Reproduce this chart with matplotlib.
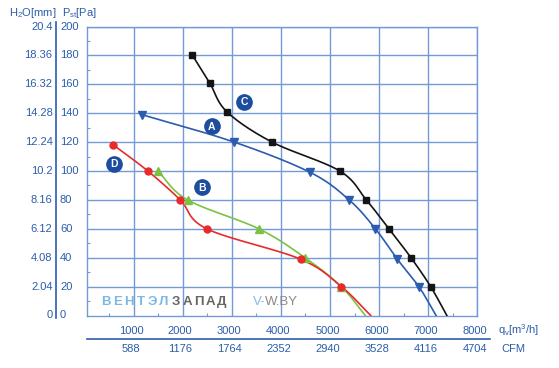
import matplotlib
matplotlib.use("Agg")
import numpy as np
import matplotlib.pyplot as plt
import matplotlib.transforms as mtransforms

plt.rcParams['font.family'] = ['Liberation Sans', 'DejaVu Sans']

# ---- data ----
a_q = [1170, 3050, 4600, 5390, 5925, 6370, 6810, 7160]
a_p = [139, 120, 99, 80, 60, 39, 20, 0]
b_q = [1490, 2100, 3550, 4490, 5230, 5720]
b_p = [100, 80, 60, 40, 20, 0]
c_q = [2200, 2550, 2900, 3820, 5200, 5740, 6200, 6650, 7050, 7380]
c_p = [180, 161, 141, 120, 100, 80, 60, 40, 20, 0]
d_q = [590, 1290, 1950, 2490, 4400, 5230, 5830]
d_p = [118, 100, 80, 60, 39, 20, 0]

badge_names = ["A", "B", "C", "D"]
badge_q = [2595, 2390, 3250, 610]
badge_p = [131, 89, 148, 105]

x_ticks = [1000, 2000, 3000, 4000, 5000, 6000, 7000, 8000]
cfm_labels = ["588", "1176", "1764", "2352", "2940", "3528", "4116", "4704"]
pa_ticks = [0, 20, 40, 60, 80, 100, 120, 140, 160, 180, 200]
mm_labels = ["0", "2.04", "4.08", "6.12", "8.16", "10.2", "12.24", "14.28", "16.32", "18.36", "20.4"]

# ---- style ----
W, H = 559, 368
grid_c = '#7499d9'
txt_c = '#2b5dab'
fig = plt.figure(figsize=(W / 100, H / 100), dpi=100)
fig.patch.set_facecolor('white')

L, R, T, B = 87.3, 477.3, 26.5, 315.5
ax = fig.add_axes([L / W, 1 - B / H, (R - L) / W, (B - T) / H])
ax.set_xlim(58, 8000)
ax.set_ylim(0, 200)

for v in x_ticks:
    ax.axvline(v, color=grid_c, lw=1.0, zorder=1)
for v in pa_ticks[1:]:
    ax.axhline(v, color=grid_c, lw=1.0, zorder=1)
for s in ax.spines.values():
    s.set_color(grid_c)
    s.set_linewidth(1.0)
ax.set_xticks([500 + 1000 * i for i in range(8)])
ax.set_yticks([10 + 20 * i for i in range(10)])
ax.tick_params(direction='in', length=2.5, width=0.8, colors=grid_c,
               labelleft=False, labelbottom=False)


def smooth_path(q, p, n=20):
    """Parametric Catmull-Rom rendering through the given points (display smoothing)."""
    pts = np.column_stack([np.asarray(q, float) / 40.0, np.asarray(p, float)])
    ext = np.vstack([2 * pts[0] - pts[1], pts, 2 * pts[-1] - pts[-2]])
    out = []
    for i in range(1, len(ext) - 2):
        p0, p1, p2, p3 = ext[i - 1], ext[i], ext[i + 1], ext[i + 2]
        t = np.linspace(0, 1, n, endpoint=False)[:, None]
        seg = 0.5 * ((2 * p1) + (-p0 + p2) * t + (2 * p0 - 5 * p1 + 4 * p2 - p3) * t ** 2
                     + (-p0 + 3 * p1 - 3 * p2 + p3) * t ** 3)
        out.append(seg)
    out.append(pts[-1:])
    res = np.vstack(out)
    return res[:, 0] * 40.0, res[:, 1]


def plot_curve(q, p, color, marker, ms, nmark):
    sx, sy = smooth_path(q, p)
    ax.plot(sx, sy, color=color, lw=1.2, zorder=3)
    ax.plot(q[:nmark], p[:nmark], linestyle='none', marker=marker, ms=ms,
            color=color, mec=color, zorder=4)

plot_curve(a_q, a_p, '#2b5cb0', 'v', 5.5, len(a_q) - 1)
plot_curve(b_q, b_p, '#7cc242', '^', 5.5, len(b_q) - 1)
plot_curve(d_q, d_p, '#e82a2a', 'o', 5, len(d_q) - 1)
plot_curve(c_q, c_p, '#141414', 's', 4.5, len(c_q) - 1)

for n, q, p in zip(badge_names, badge_q, badge_p):
    ax.plot(q, p, marker='o', ms=11, color='#1c4d9e', mec='#1c4d9e', zorder=5)
    ax.text(q, p - 0.5, n, color='white', fontsize=7.5, fontweight='bold',
            ha='center', va='center', zorder=6)

# watermark
fy_w = 1 - 302 / H
word = "ВЕНТЭЛЗАПАД"
for i, ch in enumerate(word):
    col = '#7cb8e6' if i < 6 else '#666666'
    fig.text((106 + i * 11.6) / W, fy_w, ch, color=col, fontsize=9.5,
             fontweight='bold', ha='center', va='center')
fig.text(253 / W, fy_w, "V-", color='#86bce8', fontsize=9.5, ha='left', va='center')
fig.text(265 / W, fy_w, "W.BY", color='#8a8a8a', fontsize=9.5, ha='left', va='center')

# x labels
tx = mtransforms.blended_transform_factory(ax.transData, fig.transFigure)
for v, c in zip(x_ticks, cfm_labels):
    ax.text(v - 50, 1 - 331 / H, f"{v}", transform=tx, color=txt_c,
            fontsize=8, ha='center', va='center')
    ax.text(v - 50, 1 - 349 / H, c, transform=tx, color=txt_c,
            fontsize=8, ha='center', va='center')
fig.text(498 / W, 1 - 330 / H, r"q$_\mathregular{v}$[m$^\mathregular{3}$/h]",
         color=txt_c, fontsize=8, ha='left', va='center')
fig.text(501 / W, 1 - 349 / H, "CFM", color=txt_c, fontsize=8,
         ha='left', va='center')
fig.add_artist(plt.Line2D([87 / W, 490 / W], [1 - 339 / H, 1 - 339 / H],
                          transform=fig.transFigure, color=txt_c, lw=1.2))

# y labels
ty = mtransforms.blended_transform_factory(fig.transFigure, ax.transData)
for v, m in zip(pa_ticks, mm_labels):
    ax.text(52.5 / W, v, m, transform=ty, color=txt_c, fontsize=8,
            ha='right', va='center')
    ax.text(60 / W, v, f"{v}", transform=ty, color=txt_c, fontsize=8,
            ha='left', va='center')
fig.add_artist(plt.Line2D([56 / W, 56 / W], [1 - 318 / H, 1 - 22 / H],
                          transform=fig.transFigure, color=txt_c, lw=1.2))
fig.text(9 / W, 1 - 13 / H, r"H$_\mathregular{2}$O[mm]", color=txt_c, fontsize=8,
         ha='left', va='center')
fig.text(62 / W, 1 - 13 / H, r"P$_\mathregular{st}$[Pa]", color=txt_c, fontsize=8,
         ha='left', va='center')

fig.savefig("out.png", dpi=100)
